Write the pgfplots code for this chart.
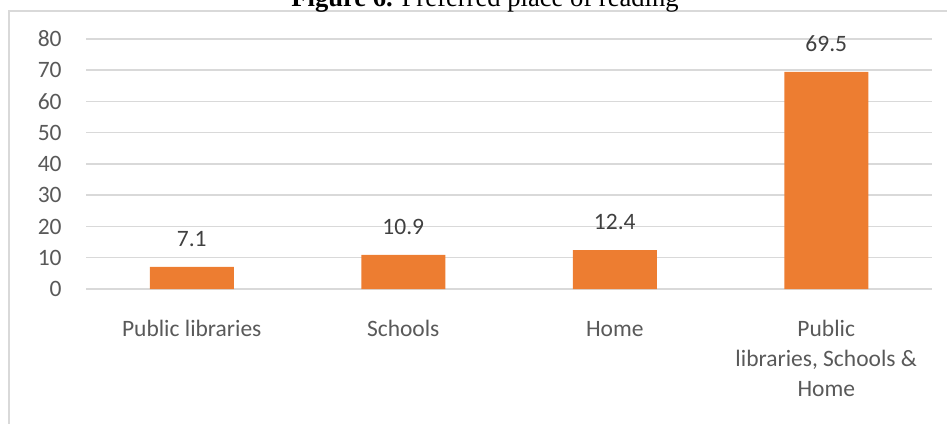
\documentclass[border=0pt]{standalone}
\usepackage{fontspec}
\setmainfont{Carlito}
\newfontfamily\titlefont{Liberation Serif}
\usepackage{pgfplots}
\pgfplotsset{compat=1.18}
\definecolor{barorange}{HTML}{ED7D31}
\definecolor{labelgray}{HTML}{595959}
\definecolor{valuegray}{HTML}{404040}
\definecolor{gridgray}{HTML}{D9D9D9}
\begin{document}
\begin{tikzpicture}
\useasboundingbox (0,0) rectangle (473.5pt,211.5pt);
\clip (0,0) rectangle (473.5pt,211.5pt);
% chart frame, partly outside the crop
\draw[gridgray, line width=0.75pt] (4.5pt,-5pt) -- (4.5pt,206pt) -- (480pt,206pt);
\node[anchor=base, inner sep=0pt, font=\titlefont\fontsize{13.3}{16}\selectfont] at (242.5pt,208pt)
  {\textbf{Figure 6.} Preferred place of reading};
\begin{axis}[
  at={(43pt,67pt)}, anchor=south west,
  scale only axis, width=423pt, height=125pt,
  ybar, bar width=42pt,
  xmin=-0.5, xmax=3.5, ymin=0, ymax=80,
  ytick={0,10,...,80},
  xtick={0,1,2,3},
  xticklabels={Public libraries, Schools, \vphantom{l}Home, {Public\\libraries, Schools \&\\Home}},
  axis line style={draw=none},
  major tick length=0pt,
  ymajorgrids, grid style={gridgray, line width=0.75pt},
  /pgf/number format/assume math mode=true,
  yticklabel style={anchor=east, inner sep=0pt, xshift=-12pt, text=labelgray,
    font=\fontsize{11.75}{14}\selectfont},
  xticklabel style={anchor=north, inner sep=0pt, yshift=-15.5pt, align=center, text=labelgray,
    font=\fontsize{11.75}{15}\selectfont},
  nodes near coords,
  every node near coord/.append style={inner sep=0pt, yshift=10pt, text=valuegray,
    font=\fontsize{11.75}{14}\selectfont},
  clip=false,
]
\addplot[fill=barorange, draw=none] coordinates {(0,7.1) (1,10.9) (2,12.4) (3,69.5)};
\end{axis}
\end{tikzpicture}
\end{document}
